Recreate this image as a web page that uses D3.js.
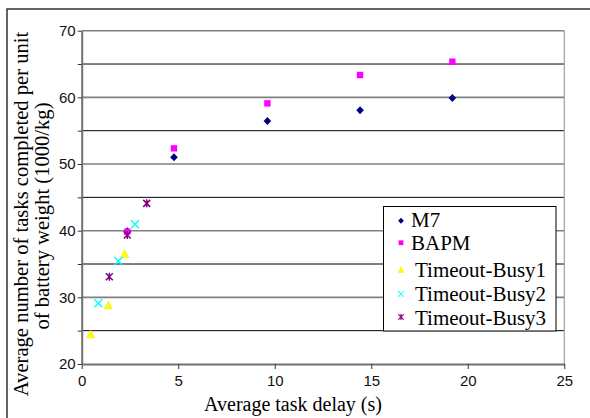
<!DOCTYPE html>
<html><head><meta charset="utf-8">
<script src="https://cdn.jsdelivr.net/npm/d3@7"></script>
<style>body{margin:0;background:#fff}svg{display:block}
.serif{font-family:'Liberation Serif','Times New Roman','DejaVu Serif',serif}
.sans{font-family:'Liberation Sans',Arial,sans-serif}
</style>
</head><body><svg id="c" width="590" height="418"></svg>
<script>
const seriesNames = ["M7","BAPM","Timeout-Busy1","Timeout-Busy2","Timeout-Busy3"];
const m7 = [[2.36,39.9],[4.78,51.0],[9.62,56.45],[14.42,58.05],[19.2,59.9]];
const bapm = [[2.36,39.85],[4.78,52.35],[9.62,59.1],[14.42,63.35],[19.2,65.35]];
const tb1 = [[0.47,24.45],[1.38,28.8],[2.23,36.5]];
const tb2 = [[0.86,29.1],[1.9,35.45],[2.76,40.95]];
const tb3 = [[1.43,33.1],[2.36,39.35],[3.37,44.1]];
const xTicks = [0,5,10,15,20,25];
const yTicks = [20,30,40,50,60,70];
const yMinor = [25,35,45,55,65];

const svg = d3.select("#c");
const L=81.7,R=564.3,T=30.7,B=364;
const x = d3.scaleLinear().domain([0,25]).range([L,R]);
const y = d3.scaleLinear().domain([20,70]).range([B,T]);

// outer frame
svg.append("rect").attr("x",7).attr("y",9).attr("width",700).attr("height",600)
  .attr("fill","none").attr("stroke","#333").attr("stroke-width",1.5);

// gridlines
svg.append("g").selectAll("line").data(yMinor).join("line")
  .attr("x1",L).attr("x2",R).attr("y1",d=>y(d)).attr("y2",d=>y(d))
  .attr("stroke","#000").attr("stroke-width",1);
svg.append("g").selectAll("line").data(yTicks.slice(1)).join("line")
  .attr("x1",L).attr("x2",R).attr("y1",d=>y(d)).attr("y2",d=>y(d))
  .attr("stroke","#808080").attr("stroke-width",1.6);
// right border
svg.append("line").attr("x1",R).attr("x2",R).attr("y1",T).attr("y2",B)
  .attr("stroke","#a0a0a0").attr("stroke-width",1.2);

// axes
const xa = svg.append("g").attr("transform",`translate(0,${B})`)
  .call(d3.axisBottom(x).tickValues(xTicks).tickSize(5).tickSizeOuter(0).tickPadding(6));
const ya = svg.append("g").attr("transform",`translate(${L},0)`)
  .call(d3.axisLeft(y).tickValues(d3.range(20,71,5)).tickSize(4).tickSizeOuter(0).tickPadding(2)
    .tickFormat(d=>d%10===0?d:""));
[xa,ya].forEach(a=>{
  a.attr("font-family",null);
  a.select(".domain").attr("stroke","#707070").attr("stroke-width",2);
  a.selectAll(".tick line").attr("stroke","#333").attr("stroke-width",1);
  a.selectAll("text").attr("class","sans").attr("font-size",15).attr("fill","#111");
});

// markers
function drawMark(g, name){
  if(name==="M7") g.append("path").attr("d","M0,-4L3.8,0L0,4L-3.8,0Z").attr("fill","#000080");
  else if(name==="BAPM") g.append("path").attr("d","M-3.2,-3.2H3.2V3.2H-3.2Z").attr("fill","#ff00ff");
  else if(name==="Timeout-Busy1") g.append("path").attr("d","M0,-4.2L4,3.4H-4Z").attr("fill","#ffff00").attr("stroke","#e8e800").attr("stroke-width",0.5);
  else if(name==="Timeout-Busy2"){
    g.append("path").attr("d","M-4,-4L4,4M-4,4L4,-4").attr("stroke","#00ffff").attr("stroke-width",1.4);
  } else {
    g.append("path").attr("d","M-3.5,-3.5L3.5,3.5M-3.5,3.5L3.5,-3.5M0,-4L0,4").attr("stroke","#800080").attr("stroke-width",1.5);
  }
}
const allData = [m7,bapm,tb1,tb2,tb3];
allData.forEach((arr,i)=>{
  svg.append("g").selectAll("g").data(arr).join("g")
    .attr("transform",d=>`translate(${x(d[0])},${y(d[1])})`)
    .each(function(){drawMark(d3.select(this),seriesNames[i]);});
});

// legend
const lg = svg.append("g");
lg.append("rect").attr("x",383.5).attr("y",206.5).attr("width",172.5).attr("height",124.5)
  .attr("fill","#fff").attr("stroke","#000").attr("stroke-width",1);
const lyM = [220.7,242.7,270,294,317];
const lyT = [226.7,250,277,301,325];
seriesNames.forEach((n,i)=>{
  const g = lg.append("g").attr("transform",`translate(401,${lyM[i]}) scale(0.75)`);
  drawMark(g,n);
  lg.append("text").attr("class","serif").attr("x", i<2?411:415).attr("y",lyT[i]).text(n)
    .attr("font-size",21).attr("fill","#000");
});

// titles
svg.append("text").attr("class","serif").attr("x",293).attr("y",411).attr("text-anchor","middle")
  .attr("font-size",20).text("Average task delay (s)");
const yt = svg.append("text").attr("class","serif").attr("transform","translate(27.5,214) rotate(-90)").attr("text-anchor","middle")
  .attr("font-size",20.6);
yt.append("tspan").attr("x",0).attr("y",0).text("Average number of tasks completed per unit");
yt.append("tspan").attr("x",-2).attr("y",21.5).text("of battery weight (1000/kg)");
</script></body></html>
